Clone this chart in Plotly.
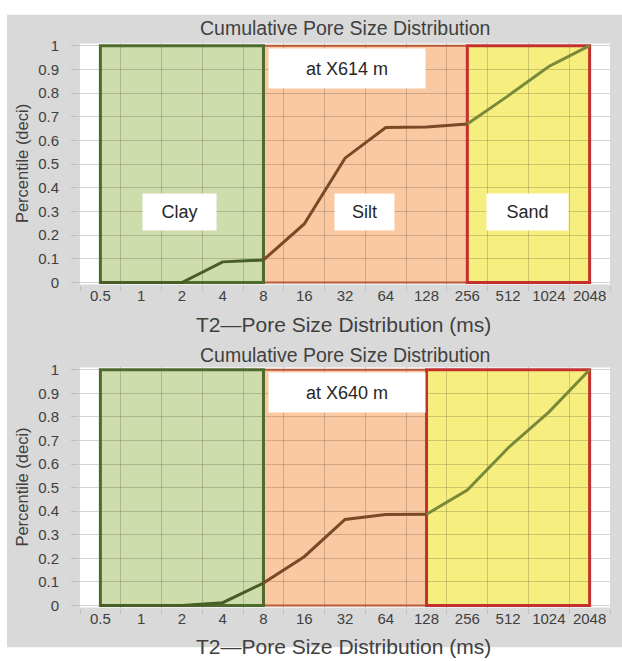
import plotly.graph_objects as go

# ---------------- data ----------------
categories = ["0.5", "1", "2", "4", "8", "16", "32", "64", "128", "256", "512", "1024", "2048"]
y_tick_vals = [0, 0.1, 0.2, 0.3, 0.4, 0.5, 0.6, 0.7, 0.8, 0.9, 1]
y_tick_text = ["0", "0.1", "0.2", "0.3", "0.4", "0.5", "0.6", "0.7", "0.8", "0.9", "1"]

pct_x614 = [0, 0, 0, 0.087, 0.095, 0.247, 0.525, 0.654, 0.657, 0.669, 0.788, 0.912, 1.0]
pct_x640 = [0, 0, 0, 0.012, 0.095, 0.207, 0.365, 0.386, 0.387, 0.49, 0.668, 0.82, 1.0]

depth_labels = ["at X614 m", "at X640 m"]
region_names = ["Clay", "Silt", "Sand"]
clay_start = "0.5"
clay_end = "8"
sand_start = ["256", "128"]
sand_end = "2048"

title_text = "Cumulative Pore Size Distribution"
x_title = "T2\u2014Pore Size Distribution (ms)"
y_title = "Percentile (deci)"

# ---------------- style ----------------
W, H = 622, 661
FONT = "Liberation Sans, Arial, sans-serif"
TXT = "#404040"
GRAY_BG = "#d9d9d9"
CLAY_FILL, SILT_FILL, SAND_FILL = "#cfdcac", "#fac9a1", "#f6ef80"
CLAY_LINE, SILT_LINE, SAND_LINE = "#465f26", "#7a4a28", "#78893a"
CLAY_BORDER, SILT_BORDER, SAND_BORDER = "#4e6a2c", "#b8583a", "#c4302e"
GRID = "rgba(0,0,0,0.17)"


def px(xp):
    return xp / W


def py(yp):
    return 1 - yp / H


idx = {c: i for i, c in enumerate(categories)}

fig = go.Figure()

panels = [
    dict(xa="x", ya="y", top=38, bot=284, data=pct_x614, sand=sand_start[0], label=depth_labels[0],
         names=True, title_y=22, xtitle_y=324),
    dict(xa="x2", ya="y2", top=368, bot=613, data=pct_x640, sand=sand_start[1], label=depth_labels[1],
         names=False, title_y=355, xtitle_y=652),
]

shapes = []
annotations = []

# gray panel behind everything
shapes.append(dict(type="rect", xref="paper", yref="paper", x0=px(7), x1=1.0, y0=py(653), y1=py(9),
                   fillcolor=GRAY_BG, line=dict(width=0), layer="below"))

for k, p in enumerate(panels):
    xa, ya = p["xa"], p["ya"]
    ci0, ci1 = idx[clay_start], idx[clay_end]
    si = idx[p["sand"]]
    se = idx[sand_end]
    vals = p["data"]

    # line split into regions
    for (a, b, col) in [(ci0, ci1, CLAY_LINE), (ci1, si, SILT_LINE), (si, se, SAND_LINE)]:
        fig.add_trace(go.Scatter(x=categories[a:b + 1], y=vals[a:b + 1], mode="lines",
                                 line=dict(color=col, width=3), xaxis=xa, yaxis=ya,
                                 showlegend=False, hoverinfo="skip"))

    # white plot area
    shapes.append(dict(type="rect", xref=xa, yref=ya, x0=-0.5, x1=len(categories) - 0.5, y0=-0.01, y1=1.01,
                       fillcolor="white", line=dict(width=0), layer="below"))
    # region fills
    for (a, b, col) in [(ci0, ci1, CLAY_FILL), (ci1, si, SILT_FILL), (si, se, SAND_FILL)]:
        shapes.append(dict(type="rect", xref=xa, yref=ya, x0=a, x1=b, y0=0, y1=1,
                           fillcolor=col, line=dict(width=0), layer="below"))
    # region borders
    for (a, b, col, w) in [(ci1, si, SILT_BORDER, 2), (ci0, ci1, CLAY_BORDER, 3), (si, se, SAND_BORDER, 3)]:
        shapes.append(dict(type="rect", xref=xa, yref=ya, x0=a, x1=b, y0=0, y1=1,
                           fillcolor="rgba(0,0,0,0)", line=dict(color=col, width=w), layer="between"))

    # depth label box
    annotations.append(dict(xref=xa, yref=ya, x=6.06, y=0.905, text=p["label"], showarrow=False,
                            width=156, height=39, bgcolor="white", borderpad=0,
                            font=dict(family=FONT, size=18, color="#262626")))
    if p["names"]:
        for name, xc, wd in [("Clay", 1.94, 73), ("Silt", 6.48, 59), ("Sand", 10.48, 81)]:
            annotations.append(dict(xref=xa, yref=ya, x=xc, y=0.298, text=name, showarrow=False,
                                    width=wd, height=36, bgcolor="white", borderpad=0,
                                    font=dict(family=FONT, size=18, color="#262626")))

    # titles
    annotations.append(dict(xref="paper", yref="paper", x=px(345), y=py(p["title_y"]), text=title_text,
                            showarrow=False, xanchor="center", yanchor="middle",
                            font=dict(family=FONT, size=19.5, color=TXT)))
    annotations.append(dict(xref="paper", yref="paper", x=px(343), y=py(p["xtitle_y"]), text=x_title,
                            showarrow=False, xanchor="center", yanchor="middle",
                            font=dict(family=FONT, size=21, color=TXT)))
    annotations.append(dict(xref="paper", yref="paper", x=px(22), y=py((p["top"] + p["bot"]) / 2),
                            text=y_title, textangle=-90, showarrow=False, xanchor="center", yanchor="middle",
                            font=dict(family=FONT, size=16.5, color=TXT)))

xdom = [px(80), px(610)]
common_x = dict(type="category", categoryorder="array", categoryarray=categories,
                range=[-0.5, len(categories) - 0.5], tickson="boundaries", showgrid=True, gridcolor=GRID,
                gridwidth=1, ticks="outside", ticklen=5, tickcolor="#bfbfbf", showline=False, zeroline=False,
                tickangle=0, tickfont=dict(family=FONT, size=15, color=TXT), fixedrange=True)
common_y = dict(range=[-0.01, 1.01], tickvals=y_tick_vals, ticktext=y_tick_text, showgrid=True,
                gridcolor=GRID, gridwidth=1, ticks="outside", ticklen=8, tickcolor="#bfbfbf",
                showline=False, zeroline=False, ticklabelstandoff=9,
                tickfont=dict(family=FONT, size=15, color=TXT), fixedrange=True)

fig.update_layout(
    width=W, height=H, autosize=False, margin=dict(l=0, r=0, t=0, b=0),
    paper_bgcolor="white", plot_bgcolor="white", showlegend=False,
    xaxis=dict(domain=xdom, anchor="y", **common_x),
    yaxis=dict(domain=[py(284), py(38)], anchor="x", **common_y),
    xaxis2=dict(domain=xdom, anchor="y2", **common_x),
    yaxis2=dict(domain=[py(613), py(368)], anchor="x2", **common_y),
    shapes=shapes, annotations=annotations,
)

fig.write_html(
    "out.html",
    config={"displayModeBar": False},
    post_script="document.body.style.margin='0';document.body.style.overflow='hidden';"
                "document.documentElement.style.overflow='hidden';",
)
